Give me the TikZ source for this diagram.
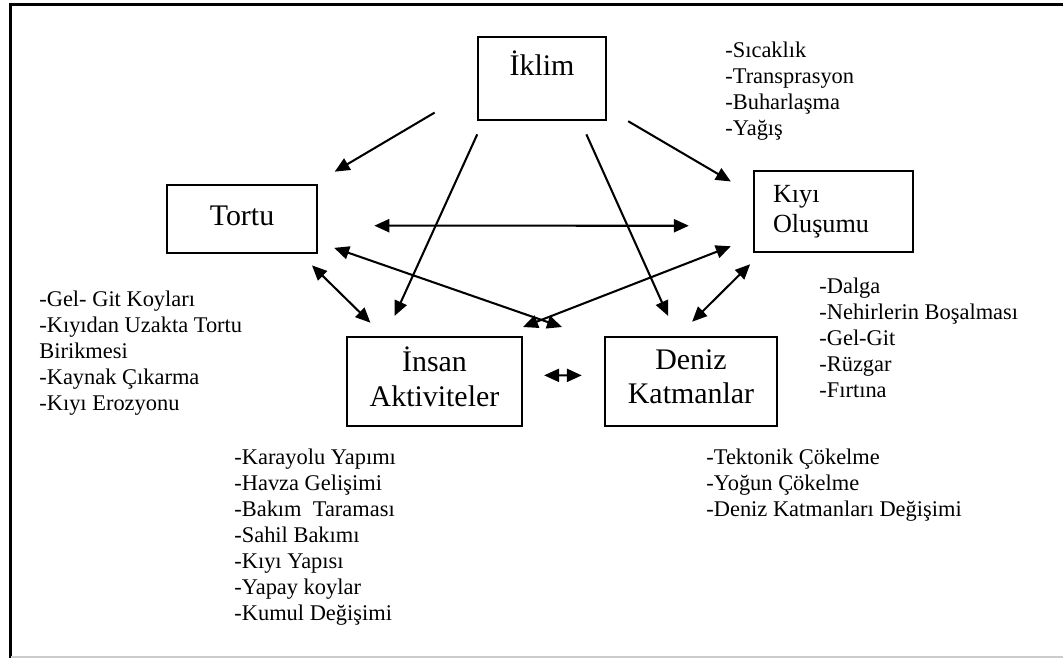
\documentclass[tikz,border=0pt]{standalone}
\usepackage{fontspec}
\setmainfont{Liberation Serif}
\usetikzlibrary{arrows.meta}

\begin{document}
\begin{tikzpicture}[x=0.535pt,y=-0.535pt,
  box/.style={draw,line width=1.3pt,inner sep=0pt,align=center,font=\fontsize{16}{18.4}\selectfont},
  item/.style={anchor=base west,inner sep=0pt,font=\fontsize{12}{13.9}\selectfont},
  link/.style={line width=1.1pt,-{Triangle[length=8pt,width=7pt]}},
  both/.style={line width=1.1pt,{Triangle[length=8pt,width=7pt]}-{Triangle[length=8pt,width=7pt]}}]

  \useasboundingbox (0,0) rectangle (1063,658);
  \draw[line width=1.4pt] (10.5,658) -- (10.5,4.5) -- (1063,4.5);
  \draw[gray!40,line width=0.6pt] (10.5,657) -- (1063,657);

  \draw (542,78.5) node[box,minimum width=68.5pt,minimum height=44.4pt,text height=14pt,text depth=17.5pt] (iklim) {İklim};
\draw (242,219) node[box,minimum width=80.3pt,minimum height=36.4pt,text depth=4pt] (tortu) {Tortu};
\draw (833.5,211.5) node[box,align=left,text width=64.7pt,inner xsep=10.2pt,minimum height=43.3pt,font=\fontsize{14}{16.1}\selectfont] (kiyi) {Kıyı\\Oluşumu};
\draw (434.5,381.5) node[box,minimum width=93.6pt,minimum height=47.6pt,text depth=5.4pt] (insan) {İnsan\\Aktiviteler};
\draw (691,381.5) node[box,minimum width=92pt,minimum height=47.6pt,text depth=5.4pt] (deniz) {Deniz\\Katmanlar};

  \coordinate (tipA) at (562,327);
  \coordinate (tipB) at (523,327);

  \draw[link,shorten <=26.2pt,shorten >=12.7pt] (iklim.188) -- (tortu.26);
  \draw[link,shorten <=7.7pt,shorten >=11.7pt] (iklim.216) -- (insan.137);
  \draw[link,shorten <=7.7pt,shorten >=11.7pt] (iklim.-48) -- (deniz.107);
  \draw[link,shorten <=13pt,shorten >=13.6pt] (iklim.-25) -- (kiyi.168);

  \draw[both,shorten <=30pt,shorten >=34.2pt] (tortu.-5) -- (kiyi.190);
  \draw[both,shorten <=9pt] (tortu.-17) -- (tipA);
  \draw[both,shorten <=12.6pt] (kiyi.198) -- (tipB);
  \draw[both,shorten <=8.5pt,shorten >=10pt] (tortu.-31) -- (insan.138);
  \draw[both,shorten <=8.4pt,shorten >=10.7pt] (kiyi.210) -- (deniz.106);
  \draw[both,shorten <=11.2pt,shorten >=11.8pt] (insan.4) -- (deniz.176);

  \draw (725,57) node[item] (w1) {-Sıcaklık}
  ++(0,26) node[item] (w2) {-Transprasyon}
  ++(0,26) node[item] (w3) {-Buharlaşma}
  ++(0,26) node[item] (w4) {-Yağış};

  \draw (39,306) node[item] (s1) {-Gel- Git Koyları}
  ++(0,26) node[item] (s2) {-Kıyıdan Uzakta Tortu}
  ++(0,26) node[item] (s3) {Birikmesi}
  ++(0,26) node[item] (s4) {-Kaynak Çıkarma}
  ++(0,26) node[item] (s5) {-Kıyı Erozyonu};

  \draw (819,293) node[item] (k1) {-Dalga}
  ++(0,26) node[item] (k2) {-Nehirlerin Boşalması}
  ++(0,26) node[item] (k3) {-Gel-Git}
  ++(0,26) node[item] (k4) {-Rüzgar}
  ++(0,26) node[item] (k5) {-Fırtına};

  \draw (234,464) node[item] (h1) {-Karayolu Yapımı}
  ++(0,26) node[item] (h2) {-Havza Gelişimi}
  ++(0,26) node[item] (h3) {-Bakım\ \ Taraması}
  ++(0,26) node[item] (h4) {-Sahil Bakımı}
  ++(0,26) node[item] (h5) {-Kıyı Yapısı}
  ++(0,26) node[item] (h6) {-Yapay koylar}
  ++(0,26) node[item] (h7) {-Kumul Değişimi};

  \draw (706,464) node[item] (d1) {-Tektonik Çökelme}
  ++(0,26) node[item] (d2) {-Yoğun Çökelme}
  ++(0,26) node[item] (d3) {-Deniz Katmanları Değişimi};

\end{tikzpicture}
\end{document}
